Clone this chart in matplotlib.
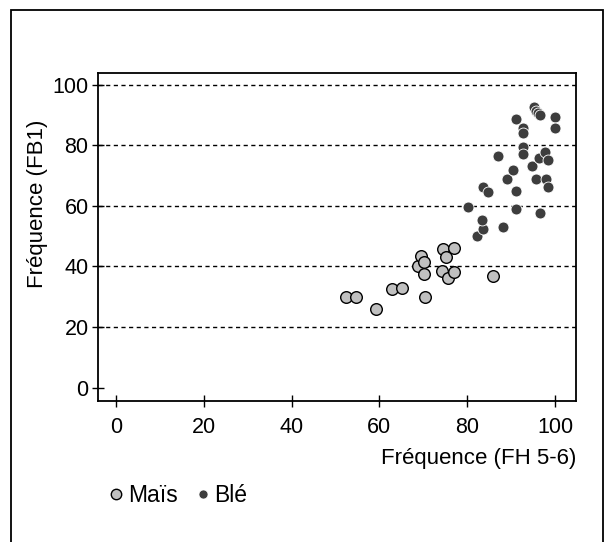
import matplotlib
matplotlib.use("Agg")
import matplotlib.pyplot as plt
from matplotlib.lines import Line2D
from matplotlib.patches import Rectangle

plt.rcParams['font.family'] = ['Liberation Sans', 'DejaVu Sans']

# Data
mais_x = [52.3, 54.7, 59.3, 62.8, 65.2, 68.8, 69.4, 70.1, 70.1, 70.3, 74.4, 75.3, 77.0, 74.3, 75.7, 77.1, 85.9]
mais_y = [29.8, 29.8, 25.8, 32.7, 33.0, 40.3, 43.5, 41.5, 37.6, 29.8, 45.8, 43.2, 46.1, 38.4, 36.3, 38.1, 36.7]

ble_x = [80.3, 82.3, 83.7, 83.5, 83.7, 84.8, 87.0, 88.1, 89.0, 90.4, 91.1, 91.1, 91.1,
         92.7, 92.7, 92.7, 92.7, 94.7, 95.2, 95.7, 96.1, 96.6, 95.6, 96.6, 96.4, 97.7,
         98.5, 97.9, 98.5, 99.9, 99.9]
ble_y = [59.5, 49.9, 52.5, 55.4, 66.1, 64.5, 76.3, 52.9, 68.8, 71.9, 64.8, 59.1, 88.7,
         85.7, 84.0, 79.3, 77.2, 73.0, 92.5, 91.2, 90.6, 89.8, 68.7, 57.6, 75.8, 77.7,
         75.2, 68.7, 66.1, 89.2, 85.6]

grid_levels = [20, 40, 60, 80, 100]
xticks = [0, 20, 40, 60, 80, 100]
yticks = [0, 20, 40, 60, 80, 100]

fig = plt.figure(figsize=(6.05, 5.42), dpi=100)
ax = fig.add_axes([0.1625, 0.2607, 0.7896, 0.604])

for g in grid_levels:
    ax.axhline(g, color='black', lw=1.0, ls=(0, (3, 2.5)), zorder=1)

ax.scatter(mais_x, mais_y, s=70, c='#c0c0c0', edgecolors='black', linewidths=1.0, zorder=3)
ax.scatter(ble_x, ble_y, s=62, c='#3d3d3d', edgecolors='white', linewidths=0.6, zorder=3)

ax.set_xlim(-4.0, 104.8)
ax.set_ylim(-4.3, 103.7)
ax.set_xticks(xticks)
ax.set_yticks(yticks)
ax.tick_params(axis='both', direction='inout', length=8, width=1.0, labelsize=15.5, colors='black')
ax.tick_params(axis='x', pad=8)
ax.tick_params(axis='y', pad=3)
for sp in ax.spines.values():
    sp.set_linewidth(1.3)

ax.set_xlabel('Fréquence (FH 5-6)', fontsize=16, ha='right')
ax.xaxis.set_label_coords(1.0, -0.143)
ax.set_ylabel('Fréquence (FB1)', fontsize=16)
ax.yaxis.set_label_coords(-0.1063, 0.6)

handles = [
    Line2D([], [], marker='o', ls='', markersize=7.5, markerfacecolor='#c0c0c0',
           markeredgecolor='black', markeredgewidth=1.0, label='Maïs'),
    Line2D([], [], marker='o', ls='', markersize=6.5, markerfacecolor='#3d3d3d',
           markeredgecolor='white', markeredgewidth=0.5, label='Blé'),
]
fig.legend(handles=handles, loc='center left', bbox_to_anchor=(105 / 605, 1 - 496 / 542),
           ncol=2, frameon=False, fontsize=16.5, handletextpad=0.0, columnspacing=0.6,
           handlelength=1.0, borderaxespad=0, borderpad=0)

border = Rectangle((11 / 605, -0.05), (603 - 11) / 605, 1.05 - 10 / 542,
                   transform=fig.transFigure, fill=False, edgecolor='black', lw=1.3)
fig.patches.append(border)

fig.savefig('out.png', dpi=100)
